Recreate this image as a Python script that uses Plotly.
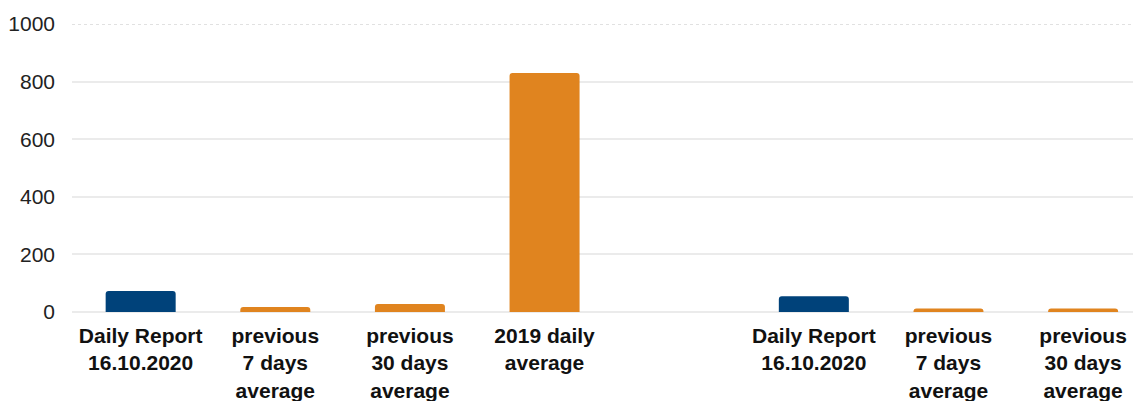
import plotly.graph_objects as go

categories = [
    "Daily Report<br>16.10.2020",
    "previous<br>7 days<br>average",
    "previous<br>30 days<br>average",
    "2019 daily<br>average",
    "",
    "Daily Report<br>16.10.2020",
    "previous<br>7 days<br>average",
    "previous<br>30 days<br>average",
]
values = [73, 17, 28, 830, None, 55, 12, 12]
colors = ["#00427a", "#e0841f", "#e0841f", "#e0841f", "#e0841f", "#00427a", "#e0841f", "#e0841f"]
y_ticks = [0, 200, 400, 600, 800, 1000]

positions = list(range(len(categories)))

fig = go.Figure(
    go.Bar(
        x=positions,
        y=values,
        width=0.52,
        marker=dict(color=colors, line=dict(width=0), cornerradius=3),
    )
)

fig.update_layout(
    width=1141,
    height=401,
    margin=dict(l=64, r=8, t=16, b=97),
    paper_bgcolor="white",
    plot_bgcolor="white",
    showlegend=False,
    font=dict(family="Liberation Sans, Arial, sans-serif", size=21, color="#222222"),
    xaxis=dict(
        range=[-0.51, 7.43],
        tickmode="array",
        tickvals=[p for p, c in zip(positions, categories) if c],
        ticktext=["<b>" + c.replace("<br>", "</b><br><b>") + "</b>" for c in categories if c],
        tickfont=dict(family="Liberation Sans, Arial, sans-serif", size=21, color="#111111"),
        showgrid=False,
        zeroline=False,
        showline=False,
        ticks="",
        ticklabelstandoff=9,
        automargin=False,
    ),
    yaxis=dict(
        range=[0, y_ticks[-1]],
        tickvals=y_ticks,
        showgrid=True,
        gridcolor="#ebebeb",
        gridwidth=1.5,
        zeroline=True,
        zerolinecolor="#ebebeb",
        zerolinewidth=1.5,
        showline=False,
        ticks="",
        ticklabelstandoff=16,
        tickfont=dict(size=21, color="#222222"),
        automargin=False,
    ),
)

fig.add_shape(
    type="line", xref="paper", yref="y", x0=0, x1=1, y0=y_ticks[-1], y1=y_ticks[-1],
    line=dict(color="#d8d8d8", width=1.5, dash="dot"), layer="above",
)

fig.write_html("out.html")
